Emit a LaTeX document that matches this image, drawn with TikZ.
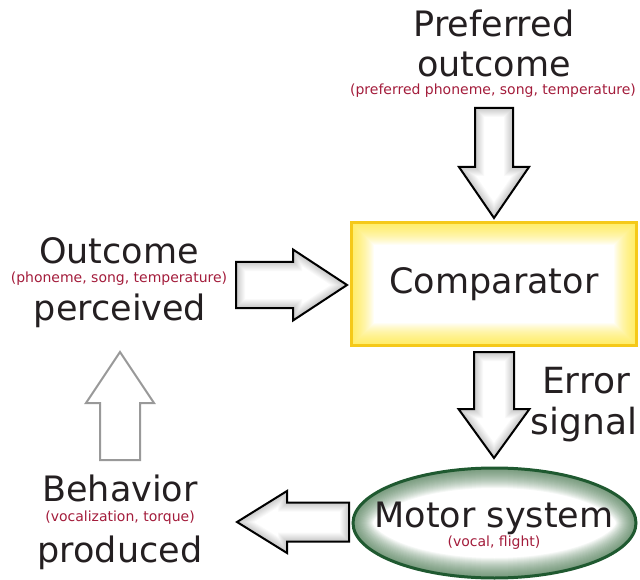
\documentclass[tikz,border=0pt]{standalone}
\usepackage{fontspec}
\setmainfont{DejaVu Sans}
\usetikzlibrary{calc}
\definecolor{txt}{rgb}{0.14,0.12,0.13}
\definecolor{redt}{rgb}{0.64,0.11,0.23}
\definecolor{ybord}{rgb}{0.96,0.79,0.10}
\definecolor{yglow}{rgb}{1.0,0.90,0.15}
\definecolor{gbord}{rgb}{0.12,0.35,0.19}
\definecolor{gglow}{rgb}{0.22,0.42,0.25}
\definecolor{grayarrow}{rgb}{0.6,0.6,0.6}
\tikzset{
  big/.style={font=\fontsize{35}{40}\selectfont, text=txt, inner sep=0pt, anchor=base},
  smallred/.style={font=\fontsize{#1}{16}\selectfont, text=redt, inner sep=0pt, anchor=base},
  outline/.style={line width=2pt, line join=miter},
}
% block arrow: #1 tail, #2 angle, #3 length, #4 shaft half, #5 head half, #6 head length, #7 glow (1) or plain gray (0)
\newcommand\blockarrow[7]{%
  \begin{scope}[shift={(#1)}, rotate=#2]
    \def\apath{(0,-#4) -- ({#3-#6},-#4) -- ({#3-#6},-#5) -- (#3,0) -- ({#3-#6},#5) -- ({#3-#6},#4) -- (0,#4) -- cycle}
    \ifnum#7=1
      \fill[white] \apath;
      \begin{scope}
        \clip \apath;
        \foreach \w in {2,4,...,18} \draw[line width=\w pt, black, draw opacity=0.022] \apath;
      \end{scope}
      \draw[outline, black] \apath;
    \else
      \draw[outline, grayarrow, fill=white] \apath;
    \fi
  \end{scope}}
\begin{document}
\begin{tikzpicture}[x=1pt, y=-1pt]
\useasboundingbox (0,0) rectangle (640,580);

% texts
\node[big] (pref1) at (494,37) {Preferred};
\node[big] (pref2) at (494,77) {outcome};
\node[smallred=14] (prefr) at (493,95) {(preferred phoneme, song, temperature)};

\node[big] (out1) at (119,264) {Outcome};
\node[smallred=14] (outr) at (119,283) {(phoneme, song, temperature)};
\node[big] (out2) at (120,320) {perceived};

\node[big] (beh1) at (120,501) {Behavior};
\node[smallred=14] (behr) at (120,521) {(vocalization, torque)};
\node[big] (beh2) at (120,562) {produced};

\node[big, font=\fontsize{36}{40}\selectfont] (err1) at (586,393) {Error};
\node[big, font=\fontsize{36}{40}\selectfont] (err2) at (584,434) {signal};

% comparator
\node[minimum width=284pt, minimum height=122pt, inner sep=0pt,
      font=\fontsize{35}{40}\selectfont, text=txt] (comp) at (494,284) {Comparator};
\begin{scope}
  \clip (comp.north west) rectangle (comp.south east);
  \foreach \w in {2,4,...,44} \draw[line width=\w pt, yglow, draw opacity=0.05] (comp.north west) rectangle (comp.south east);
\end{scope}
\draw[line width=3pt, ybord] (comp.north west) rectangle (comp.south east);

% motor system
\node[minimum width=283pt, minimum height=110pt, inner sep=0pt] (motor) at (494.5,523) {};
\begin{scope}
  \clip (motor.center) ellipse [x radius=141.5, y radius=55];
  \foreach \w in {2,4,...,40} \draw[line width=\w pt, gglow, draw opacity=0.055] (motor.center) ellipse [x radius=141.5, y radius=55];
\end{scope}
\draw[line width=3pt, gbord] (motor.center) ellipse [x radius=141.5, y radius=55];
\node[big] (mot1) at (494,527) {Motor system};
\node[smallred=14] (motr) at (494,546) {(vocal, flight)};

% arrow anchor points
\coordinate (a1) at (494,108);
\coordinate (a2) at (236,285);
\coordinate (a3) at (494,352);
\coordinate (a4) at (349,522);
\coordinate (a5) at (120,460);

\blockarrow{a1}{-90}{110}{19}{35}{51}{1}
\blockarrow{a2}{0}{111}{23}{35.5}{54}{1}
\blockarrow{a3}{-90}{106}{20}{35.5}{49}{1}
\blockarrow{a4}{180}{112}{19.5}{31}{50}{1}
\blockarrow{a5}{90}{108}{20}{34}{51}{0}
\end{tikzpicture}
\end{document}
